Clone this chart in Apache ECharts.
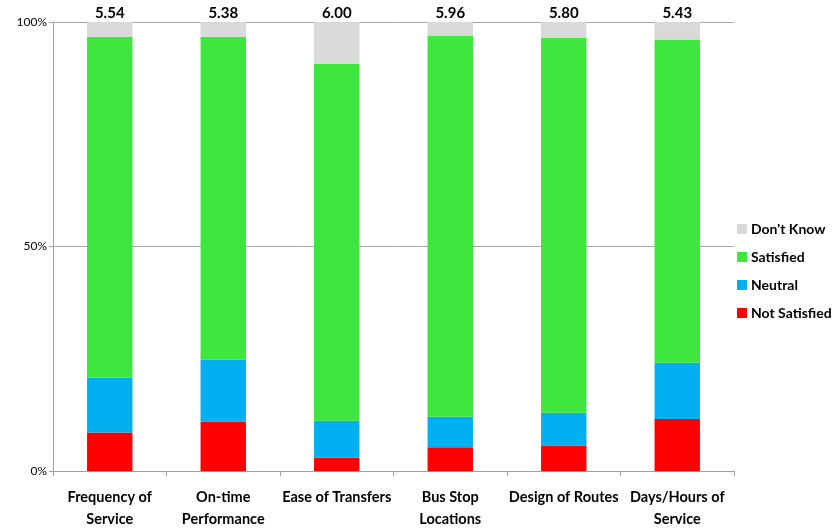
<!DOCTYPE html>
<html>
<head>
<meta charset="utf-8">
<script src="https://cdn.jsdelivr.net/npm/echarts@6/dist/echarts.min.js"></script>
<style>
  html, body { margin: 0; padding: 0; background: #fff; }
  #chart { width: 832px; height: 529px; }
</style>
</head>
<body>
<div id="chart"></div>
<script>
// Satisfaction ratings per service attribute (percent of respondents)
const categories = ['Frequency of\nService', 'On-time\nPerformance', 'Ease of Transfers', 'Bus Stop\nLocations', 'Design of Routes', 'Days/Hours of\nService'];
const notSatisfied = [8.6, 11.0, 3.0, 5.3, 5.7, 11.6];
const neutral      = [12.2, 13.8, 8.2, 6.8, 7.3, 12.5];
const satisfied    = [75.9, 71.9, 79.5, 84.9, 83.5, 72.0];
const dontKnow     = [3.3, 3.3, 9.3, 3.0, 3.5, 3.9];
// Mean score shown above each bar
const meanScores   = ['5.54', '5.38', '6.00', '5.96', '5.80', '5.43'];
const yTicks = [0, 50, 100];

const FONT = 'Lato, "Open Sans", sans-serif';
const chart = echarts.init(document.getElementById('chart'));

function bar(name, data, color, extra) {
  return Object.assign({
    name: name,
    type: 'bar',
    stack: 'total',
    barWidth: '40%',
    data: data,
    itemStyle: { color: color },
    emphasis: { disabled: true }
  }, extra || {});
}

chart.setOption({
  animation: false,
  textStyle: { fontFamily: FONT },
  grid: { left: 53, right: 98, top: 22, bottom: 58, outerBoundsMode: 'none', containLabel: false },
  legend: {
    orient: 'vertical',
    left: 732,
    top: 217,
    itemWidth: 10,
    itemHeight: 10,
    itemGap: 14,
    icon: 'rect',
    data: ["Don't Know", 'Satisfied', 'Neutral', 'Not Satisfied'],
    textStyle: { fontFamily: FONT, fontWeight: 'bold', fontSize: 14, color: '#000', padding: [0, 0, 0, -1] }
  },
  xAxis: {
    type: 'category',
    data: categories,
    axisLine: { lineStyle: { color: '#a0a0a0', width: 1 } },
    axisTick: { show: true, length: 5, lineStyle: { color: '#a0a0a0' } },
    axisLabel: {
      interval: 0,
      margin: 15,
      fontFamily: FONT,
      fontWeight: 'bold',
      fontSize: 14.5,
      lineHeight: 22,
      color: '#000'
    }
  },
  yAxis: {
    type: 'value',
    min: yTicks[0],
    max: yTicks[yTicks.length - 1],
    interval: 50,
    axisLine: { show: true, lineStyle: { color: '#a0a0a0' } },
    axisTick: { show: true, length: 4, lineStyle: { color: '#a0a0a0' } },
    splitLine: { show: true, lineStyle: { color: '#a6a6a6', width: 1 } },
    axisLabel: {
      margin: 6,
      fontFamily: FONT,
      fontSize: 12,
      color: '#000',
      formatter: v => v + '%'
    }
  },
  series: [
    bar('Not Satisfied', notSatisfied, '#ff0000'),
    bar('Neutral', neutral, '#00b0f0'),
    bar('Satisfied', satisfied, '#3ee63e'),
    bar("Don't Know", dontKnow, '#d9d9d9', {
      label: {
        show: true,
        position: 'top',
        distance: 1,
        fontFamily: FONT,
        fontWeight: 'bold',
        fontSize: 15,
        color: '#000',
        formatter: p => meanScores[p.dataIndex]
      }
    })
  ]
});
</script>
</body>
</html>
